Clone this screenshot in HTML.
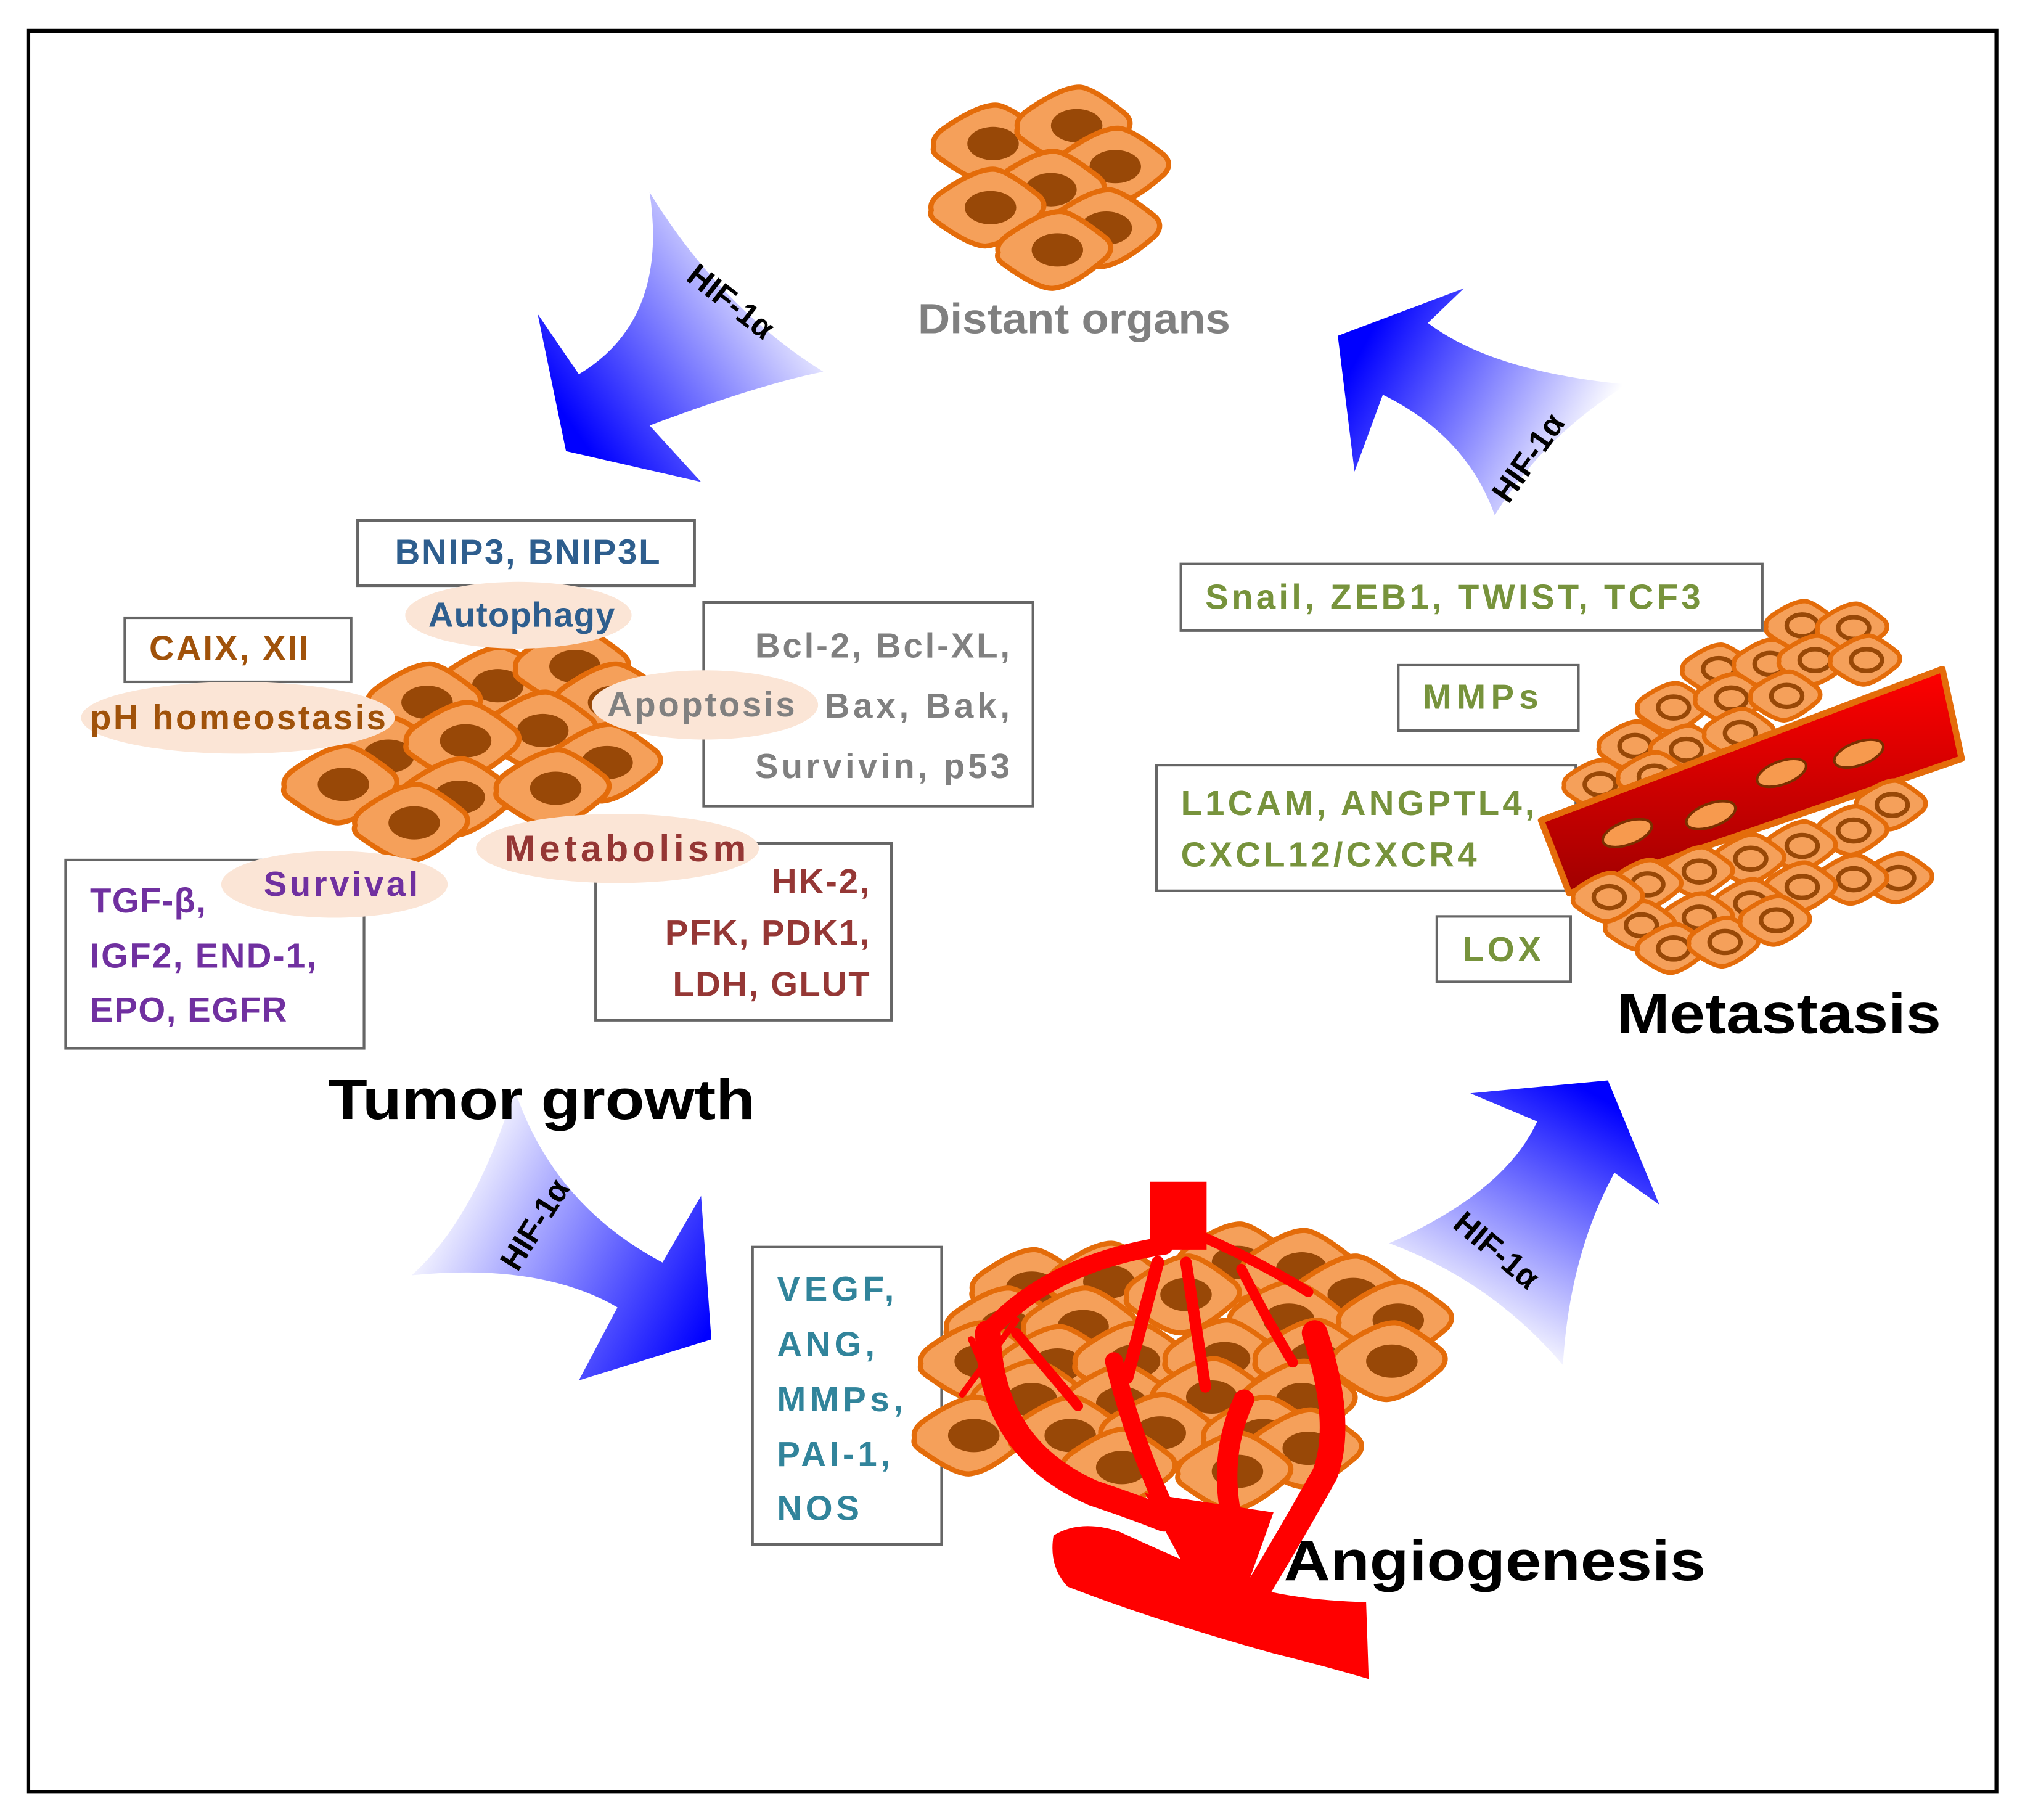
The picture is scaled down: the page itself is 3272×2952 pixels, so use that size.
<!DOCTYPE html>
<html><head><meta charset="utf-8"><style>html,body{margin:0;padding:0;background:#fff}svg{display:block}</style></head>
<body>
<svg xmlns="http://www.w3.org/2000/svg" width="3272" height="2952" viewBox="0 0 1568 1420" preserveAspectRatio="none" font-family="Liberation Sans, Arial, sans-serif" font-weight="bold">
<defs>
<g id="c"><path d="M-44,2 Q-46,-5 -36,-12 Q-10,-30 4,-30 Q14,-30 40,-9 Q47,-2 40,6 Q14,29 -2,30 Q-14,30 -40,11 Q-46,7 -44,2Z" fill="#f5a05a" stroke="#e46c0a" stroke-width="4" stroke-linejoin="round"/><ellipse cx="2" cy="0" rx="20" ry="13" fill="#984807"/></g>
<g id="s"><path d="M-27,1 Q-28,-4 -22,-8 Q-6,-19 3,-19 Q9,-19 25,-6 Q29,-1 25,4 Q9,18 -1,19 Q-9,19 -25,7 Q-28,4 -27,1Z" fill="#f5a05a" stroke="#e46c0a" stroke-width="3.5" stroke-linejoin="round"/><ellipse cx="1" cy="0" rx="12" ry="8.5" fill="#f5a05a" stroke="#984807" stroke-width="3.5"/></g>
<linearGradient id="g1" gradientUnits="userSpaceOnUse" x1="620" y1="220" x2="450" y2="340"><stop offset="0" stop-color="#fff"/><stop offset="1" stop-color="#0000ff"/></linearGradient>
<linearGradient id="g2" gradientUnits="userSpaceOnUse" x1="1230" y1="360" x2="1060" y2="270"><stop offset="0" stop-color="#fff"/><stop offset="1" stop-color="#0000ff"/></linearGradient>
<linearGradient id="g3" gradientUnits="userSpaceOnUse" x1="340" y1="930" x2="550" y2="1040"><stop offset="0" stop-color="#fff"/><stop offset="1" stop-color="#0000ff"/></linearGradient>
<linearGradient id="g4" gradientUnits="userSpaceOnUse" x1="1150" y1="1040" x2="1250" y2="860"><stop offset="0" stop-color="#fff"/><stop offset="1" stop-color="#0000ff"/></linearGradient>
<linearGradient id="rv" x1="0" y1="0" x2="0" y2="1"><stop offset="0" stop-color="#ff0000"/><stop offset="1" stop-color="#a00000"/></linearGradient>
</defs>
<rect x="22" y="24" width="1530" height="1374" fill="#fff" stroke="#000" stroke-width="3"/>

<!-- arrows -->
<path d="M505,150 Q520,250 450,292 L418,245 L440,352 L545,376 L505,332 Q590,300 640,290 Q560,240 505,150 Z" fill="url(#g1)"/>
<path d="M1265,300 Q1160,290 1110,252 L1138,225 L1040,262 L1053,368 L1075,308 Q1140,340 1162,402 Q1200,340 1265,300 Z" fill="url(#g2)"/>
<path d="M320,995 Q420,985 480,1020 L450,1077 L553,1045 L545,933 L515,985 Q430,940 400,850 Q370,950 320,995 Z" fill="url(#g3)"/>
<path d="M1080,970 Q1170,930 1195,875 L1143,853 L1250,843 L1290,940 L1255,915 Q1220,980 1215,1065 Q1160,1000 1080,970 Z" fill="url(#g4)"/>
<g font-size="25" fill="#000">
<text transform="translate(563,242) rotate(38)" text-anchor="middle">HIF-1α</text>
<text transform="translate(1195,362) rotate(-55)" text-anchor="middle">HIF-1α</text>
<text transform="translate(423,960) rotate(-58)" text-anchor="middle">HIF-1α</text>
<text transform="translate(1158,982) rotate(40)" text-anchor="middle">HIF-1α</text>
</g>

<!-- distant organs -->
<use href="#c" x="770" y="112"/><use href="#c" x="835" y="98"/><use href="#c" x="865" y="130"/>
<use href="#c" x="815" y="148"/><use href="#c" x="768" y="162"/><use href="#c" x="858" y="178"/><use href="#c" x="820" y="195"/>
<text x="835" y="260" font-size="33" fill="#808080" text-anchor="middle" textLength="243" lengthAdjust="spacingAndGlyphs">Distant organs</text>

<!-- tumor growth -->
<g fill="#fff" stroke="#666" stroke-width="2">
<rect x="278" y="406" width="262" height="51"/><rect x="97" y="482" width="176" height="50"/>
<rect x="547" y="470" width="256" height="159"/><rect x="463" y="658" width="230" height="138"/>
<rect x="51" y="671" width="232" height="147"/>
</g>
<use href="#c" x="385" y="535"/><use href="#c" x="445" y="520"/><use href="#c" x="330" y="548"/>
<use href="#c" x="475" y="548"/><use href="#c" x="420" y="570"/><use href="#c" x="300" y="590"/><use href="#c" x="360" y="578"/>
<use href="#c" x="470" y="595"/><use href="#c" x="265" y="612"/><use href="#c" x="355" y="622"/><use href="#c" x="430" y="615"/><use href="#c" x="320" y="642"/>
<g fill="#fbe5d6">
<ellipse cx="403" cy="480" rx="88" ry="26"/><ellipse cx="185" cy="560" rx="122" ry="28"/>
<ellipse cx="548" cy="550" rx="88" ry="27"/><ellipse cx="480" cy="662" rx="110" ry="27"/><ellipse cx="260" cy="690" rx="88" ry="26"/>
</g>
<g font-size="27" lengthAdjust="spacingAndGlyphs">
<text x="307" y="440" fill="#2e5e8e" textLength="206">BNIP3, BNIP3L</text>
<text x="333" y="489" fill="#2e5e8e" textLength="145">Autophagy</text>
<text x="116" y="515" fill="#a0520a" textLength="124">CAIX, XII</text>
<text x="70" y="569" fill="#a0520a" textLength="230">pH homeostasis</text>
<text x="472" y="559" fill="#808080" textLength="146">Apoptosis</text>
<g fill="#808080"><text x="587" y="513" textLength="198">Bcl-2, Bcl-XL,</text><text x="641" y="560" textLength="144">Bax, Bak,</text><text x="587" y="607" textLength="198">Survivin, p53</text></g>
<text x="392" y="672" fill="#953735" font-size="29" textLength="188">Metabolism</text>
<g fill="#953735"><text x="600" y="697" textLength="76">HK-2,</text><text x="517" y="737" textLength="159">PFK, PDK1,</text><text x="523" y="777" textLength="153">LDH, GLUT</text></g>
<text x="205" y="699" fill="#7030a0" textLength="120">Survival</text>
<g fill="#7030a0"><text x="70" y="712" textLength="90">TGF-β,</text><text x="70" y="755" textLength="176">IGF2, END-1,</text><text x="70" y="797" textLength="153">EPO, EGFR</text></g>
</g>
<text x="255" y="873" font-size="44" textLength="332" lengthAdjust="spacingAndGlyphs">Tumor growth</text>

<!-- metastasis -->
<g fill="#fff" stroke="#666" stroke-width="2">
<rect x="918" y="440" width="452" height="52"/><rect x="1087" y="519" width="140" height="51"/>
<rect x="899" y="597" width="326" height="98"/><rect x="1117" y="715" width="104" height="51"/>
</g>
<use href="#s" x="1400" y="488"/><use href="#s" x="1440" y="490"/>
<use href="#s" x="1335" y="522"/><use href="#s" x="1375" y="518"/><use href="#s" x="1410" y="515"/><use href="#s" x="1450" y="515"/>
<use href="#s" x="1300" y="552"/><use href="#s" x="1345" y="545"/><use href="#s" x="1388" y="543"/><use href="#s" x="1270" y="582"/><use href="#s" x="1310" y="585"/><use href="#s" x="1352" y="572"/>
<use href="#s" x="1243" y="612"/><use href="#s" x="1285" y="606"/>
<path d="M1198,640 L1510,522 L1525,592 L1220,697 Z" fill="url(#rv)" stroke="#e46c0a" stroke-width="5" stroke-linejoin="round"/>
<g fill="#f79a4e" stroke="#7a3000" stroke-width="2">
<ellipse cx="1265" cy="650" rx="20" ry="9" transform="rotate(-20 1265 650)"/><ellipse cx="1330" cy="636" rx="20" ry="9" transform="rotate(-20 1330 636)"/>
<ellipse cx="1385" cy="603" rx="20" ry="9" transform="rotate(-20 1385 603)"/><ellipse cx="1445" cy="588" rx="20" ry="9" transform="rotate(-20 1445 588)"/>
</g>
<use href="#s" x="1470" y="628"/><use href="#s" x="1440" y="648"/><use href="#s" x="1400" y="660"/><use href="#s" x="1360" y="670"/>
<use href="#s" x="1320" y="680"/><use href="#s" x="1280" y="690"/><use href="#s" x="1475" y="685"/><use href="#s" x="1440" y="686"/>
<use href="#s" x="1400" y="692"/><use href="#s" x="1360" y="705"/><use href="#s" x="1320" y="716"/><use href="#s" x="1275" y="722"/><use href="#s" x="1250" y="700"/><use href="#s" x="1300" y="740"/><use href="#s" x="1340" y="735"/><use href="#s" x="1380" y="718"/>
<g font-size="27" fill="#77933c" lengthAdjust="spacingAndGlyphs">
<text x="937" y="475" textLength="385">Snail, ZEB1, TWIST, TCF3</text>
<text x="1106" y="553" textLength="90">MMPs</text>
<text x="918" y="636" textLength="275">L1CAM, ANGPTL4,</text><text x="918" y="676" textLength="230">CXCL12/CXCR4</text>
<text x="1137" y="750" textLength="61">LOX</text>
</g>
<text x="1257" y="806" font-size="44" textLength="252" lengthAdjust="spacingAndGlyphs">Metastasis</text>

<!-- angiogenesis -->
<rect x="585" y="973" width="147" height="232" fill="#fff" stroke="#666" stroke-width="2"/>
<g font-size="27" fill="#31849b" lengthAdjust="spacingAndGlyphs"><text x="604" y="1015" textLength="91">VEGF,</text><text x="604" y="1058" textLength="76">ANG,</text><text x="604" y="1101" textLength="98">MMPs,</text><text x="604" y="1144" textLength="88">PAI-1,</text><text x="604" y="1186" textLength="64">NOS</text></g>
<use href="#c" x="960" y="985"/><use href="#c" x="1010" y="990"/>
<use href="#c" x="800" y="1005"/><use href="#c" x="860" y="1000"/><use href="#c" x="920" y="1010"/><use href="#c" x="1050" y="1010"/>
<use href="#c" x="780" y="1035"/><use href="#c" x="840" y="1035"/><use href="#c" x="1000" y="1030"/><use href="#c" x="1085" y="1030"/>
<use href="#c" x="760" y="1062"/><use href="#c" x="820" y="1065"/><use href="#c" x="880" y="1062"/><use href="#c" x="950" y="1060"/><use href="#c" x="1020" y="1060"/><use href="#c" x="1080" y="1062"/>
<use href="#c" x="800" y="1092"/><use href="#c" x="870" y="1095"/><use href="#c" x="940" y="1090"/><use href="#c" x="1010" y="1092"/>
<use href="#c" x="755" y="1120"/><use href="#c" x="830" y="1120"/><use href="#c" x="900" y="1118"/><use href="#c" x="980" y="1120"/><use href="#c" x="1015" y="1130"/>
<use href="#c" x="870" y="1145"/><use href="#c" x="960" y="1148"/>
<g fill="none" stroke="#ff0000" stroke-linecap="round">
<path d="M916,922 L916,975" stroke-width="44" stroke-linecap="butt"/>
<path d="M905,972 Q820,985 772,1035" stroke-width="14"/>
<path d="M768,1040 Q770,1130 850,1165 Q880,1175 905,1185" stroke-width="20"/>
<path d="M748,1088 L790,1030" stroke-width="5"/>
<path d="M755,1045 L770,1080" stroke-width="5"/>
<path d="M790,1040 L838,1097" stroke-width="8"/>
<path d="M866,1062 Q880,1120 905,1175" stroke-width="14"/>
<path d="M900,985 L876,1075" stroke-width="10"/>
<path d="M922,985 L937,1082" stroke-width="9"/>
<path d="M935,965 Q980,985 1017,1008" stroke-width="8"/>
<path d="M965,990 Q985,1030 1005,1063" stroke-width="8"/>
<path d="M1022,1040 Q1045,1110 1030,1150 Q1005,1195 975,1245" stroke-width="20"/>
<path d="M967,1092 Q945,1140 960,1195" stroke-width="16"/>
</g>
<path d="M890,1165 L990,1180 L965,1250 L925,1230 Z" fill="#ff0000"/>
<path d="M819,1198 Q840,1185 870,1195 Q920,1218 950,1230 Q990,1248 1062,1250 L1064,1310 Q1030,1300 990,1290 Q900,1265 830,1238 Q815,1222 819,1198Z" fill="#ff0000"/>
<text x="998" y="1233" font-size="44" textLength="328" lengthAdjust="spacingAndGlyphs">Angiogenesis</text>
</svg>
</body></html>
